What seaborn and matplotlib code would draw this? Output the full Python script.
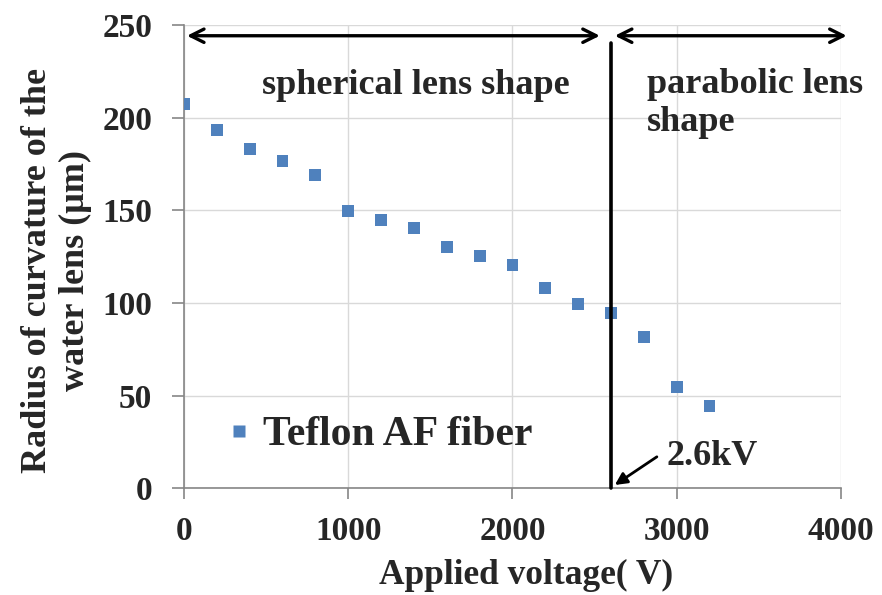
import matplotlib
matplotlib.use("Agg")
import matplotlib.pyplot as plt
import seaborn as sns
import pandas as pd

# Data
voltage = [0, 200, 400, 600, 800, 1000, 1200, 1400, 1600, 1800, 2000,
           2200, 2400, 2600, 2800, 3000, 3200]
radius = [207.5, 193.5, 183.2, 176.7, 169.2, 149.7, 144.9, 140.5, 130.3,
          125.5, 120.6, 108.1, 99.5, 94.7, 81.7, 54.7, 44.4]
series_name = "Teflon AF fiber"
x_ticks = [0, 1000, 2000, 3000, 4000]
y_ticks = [0, 50, 100, 150, 200, 250]
transition_v = 2600

df = pd.DataFrame({"Applied voltage(V)": voltage, "Radius": radius,
                   "Series": series_name})

sns.set_theme(style="whitegrid")
plt.rcParams['font.family'] = ['Liberation Serif', 'DejaVu Serif']
plt.rcParams['font.weight'] = 'bold'

fig = plt.figure(figsize=(8.82, 5.95), dpi=100)
ax = fig.add_axes([0.2086, 0.1793, 0.9535 - 0.2086, 0.958 - 0.1793])
ax.set_facecolor("white")

sns.scatterplot(data=df, x="Applied voltage(V)", y="Radius", hue="Series",
                palette=["#4F81BD"], marker="s", s=72, edgecolor="none",
                ax=ax, zorder=3)

ax.set_xlim(0, 4000)
ax.set_ylim(0, 250)
ax.set_xticks(x_ticks)
ax.set_yticks(y_ticks)
ax.grid(True, color="#d9d9d9", linewidth=1.0)
ax.set_axisbelow(True)

for s in ["top", "right"]:
    ax.spines[s].set_visible(False)
for s in ["left", "bottom"]:
    ax.spines[s].set_visible(True)
    ax.spines[s].set_color("#868686")
    ax.spines[s].set_linewidth(1.2)

ax.tick_params(axis="x", which="major", direction="out", length=8, width=1.2,
               color="#868686", pad=12, labelsize=24, bottom=True)
ax.tick_params(axis="y", which="major", direction="out", length=9, width=1.2,
               color="#868686", pad=14, labelsize=24, left=True)
for lab in ax.get_xticklabels() + ax.get_yticklabels():
    lab.set_fontweight("bold")

ax.set_xlabel("Applied voltage( V)", fontsize=25.5, fontweight="bold")
ax.xaxis.set_label_coords(0.52, -0.152)
ax.set_ylabel("Radius of curvature of the\nwater lens (μm)", fontsize=26,
              fontweight="bold", linespacing=1.2)
ax.yaxis.set_label_coords(-0.14, 0.47)

# Transition line
ax.plot([transition_v, transition_v], [0, 240.4], color="black", lw=2.6,
        zorder=4, clip_on=False)

# Double-headed arrows
arrow_kw = dict(arrowstyle="<->,head_length=0.8,head_width=0.4",
                color="black", lw=2.4, shrinkA=0, shrinkB=0)
ax.annotate("", xy=(2532, 244.2), xytext=(18, 244.2), arrowprops=arrow_kw,
            annotation_clip=False)
ax.annotate("", xy=(4035, 244.2), xytext=(2623, 244.2), arrowprops=arrow_kw,
            annotation_clip=False)

ax.text(475, 213, "spherical lens shape", fontsize=26, fontweight="bold",
        va="baseline", ha="left")
ax.text(2818, 193, "parabolic lens\nshape", fontsize=26, fontweight="bold",
        va="baseline", ha="left", linespacing=1.2)

# 2.6kV annotation
ax.annotate("", xy=(2623, 1.8), xytext=(2879, 17),
            arrowprops=dict(arrowstyle="-|>,head_length=0.6,head_width=0.3",
                            color="black", lw=2.0, shrinkA=0, shrinkB=0))
ax.text(2940, 12.8, "2.6kV", fontsize=26, fontweight="bold",
        va="baseline", ha="left")

leg = ax.legend(loc="center left", bbox_to_anchor=(0.071, 0.115),
                frameon=False, prop={"family": "Liberation Serif",
                                     "weight": "bold", "size": 30},
                handlelength=0.4, handletextpad=0.38, borderpad=0,
                borderaxespad=0, markerscale=1.0)

fig.savefig("out.png", dpi=100)
